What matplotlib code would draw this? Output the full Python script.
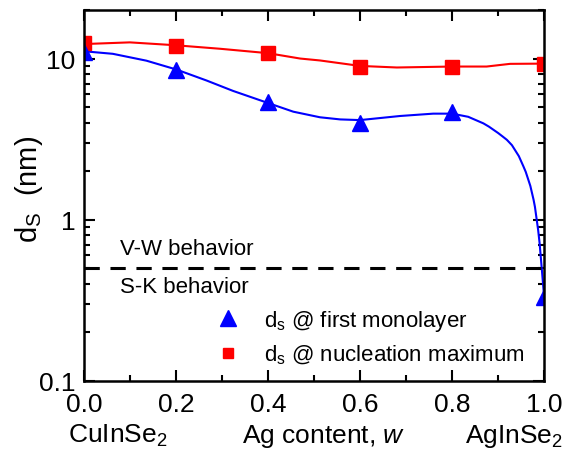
import numpy as np
import matplotlib
matplotlib.use("Agg")
import matplotlib.pyplot as plt
from matplotlib.ticker import FixedLocator, LogLocator, FuncFormatter, MultipleLocator

plt.rcParams['font.family'] = ['Liberation Sans', 'DejaVu Sans']
plt.rcParams['mathtext.fontset'] = 'custom'
plt.rcParams['mathtext.rm'] = 'Liberation Sans'
plt.rcParams['mathtext.it'] = 'Liberation Sans:italic'

# measured points
w_pts = [0.0, 0.2, 0.4, 0.6, 0.8, 1.0]
ds_mono = [11.0, 8.5, 5.4, 4.0, 4.65, 0.33]
ds_nucl = [12.4, 11.9, 10.9, 8.8, 8.9, 9.3]

# guide-to-the-eye curves
w_fit_mono = [0.0, 0.063, 0.136, 0.201, 0.267, 0.324, 0.4, 0.455, 0.513, 0.557, 0.6,
              0.687, 0.759, 0.8, 0.835, 0.868, 0.88, 0.9, 0.91, 0.919, 0.93, 0.945,
              0.955, 0.96, 0.97, 0.977, 0.98, 0.987, 0.99, 0.995, 1.0]
ds_fit_mono = [11.1, 10.7, 9.7, 8.55, 7.3, 6.3, 5.3, 4.68, 4.32, 4.19, 4.15,
               4.4, 4.55, 4.55, 4.35, 3.96, 3.78, 3.45, 3.28, 3.13, 2.9, 2.48,
               2.14, 1.98, 1.62, 1.33, 1.2, 0.86, 0.72, 0.49, 0.33]
w_fit_nucl = [0.0, 0.1, 0.198, 0.296, 0.4, 0.47, 0.513, 0.6, 0.68, 0.8, 0.875, 0.926, 1.0]
ds_fit_nucl = [12.3, 12.6, 12.1, 11.5, 10.8, 10.0, 9.73, 9.0, 8.8, 8.92, 8.92, 9.27, 9.3]

vw_sk_limit = 0.5

fig = plt.figure(figsize=(5.74, 4.6), dpi=100)
ax = fig.add_axes([0.146, 0.170, 0.802, 0.806])

ax.plot(w_fit_nucl, ds_fit_nucl, color='red', lw=1.5)
ax.plot(w_fit_mono, ds_fit_mono, color='blue', lw=1.5)
ax.plot(w_pts, ds_nucl, 's', color='red', ms=10, mec='red')
ax.plot(w_pts, ds_mono, '^', color='blue', ms=12, mec='blue')
ax.axhline(vw_sk_limit, color='black', lw=2.2, ls=(0, (5, 3.5)))

# legend handles (markers only)
h1, = ax.plot([], [], '^', color='blue', ms=11)
h2, = ax.plot([], [], 's', color='red', ms=7)
ax.legend([h1, h2], [r'd$_\mathregular{s}$ @ first monolayer', r'd$_\mathregular{s}$ @ nucleation maximum'],
          loc='lower right', bbox_to_anchor=(1.0, -0.015), frameon=False, fontsize=16,
          handlelength=1.2, handletextpad=1.0, labelspacing=0.45)

ax.text(0.078, 0.66, 'V-W behavior', fontsize=16, va='center')
ax.text(0.078, 0.385, 'S-K behavior', fontsize=16, va='center')

ax.set_yscale('log')
ax.set_xlim(0, 1.0)
ax.set_ylim(0.1, 20)
ax.xaxis.set_major_locator(MultipleLocator(0.2))
ax.xaxis.set_minor_locator(MultipleLocator(0.1))
ax.xaxis.set_major_formatter(FuncFormatter(lambda v, p: '%.1f' % v))
ax.yaxis.set_major_locator(FixedLocator([0.1, 1, 10]))
ax.yaxis.set_minor_locator(LogLocator(base=10, subs=np.arange(2, 10)))
ax.yaxis.set_major_formatter(FuncFormatter(lambda v, p: '%g' % v))
ax.tick_params(which='both', direction='in', top=True, right=True, labelsize=19, width=1.5)
ax.tick_params(which='major', length=8)
ax.tick_params(which='minor', length=4)
ax.tick_params(axis='x', pad=8)
ax.tick_params(axis='y', pad=6)
for s in ax.spines.values():
    s.set_linewidth(1.8)

ax.set_ylabel(r'd$_\mathregular{S}$  (nm)', fontsize=21)
ax.yaxis.set_label_coords(-0.085, 0.52)
fig.text(0.118, 0.037, r'CuInSe$_\mathregular{2}$', fontsize=19, ha='left', va='baseline')
fig.text(0.563, 0.037, r'Ag content, $\mathit{w}$', fontsize=19, ha='center', va='baseline')
fig.text(0.98, 0.037, r'AgInSe$_\mathregular{2}$', fontsize=19, ha='right', va='baseline')

fig.savefig('out.png', dpi=100)
